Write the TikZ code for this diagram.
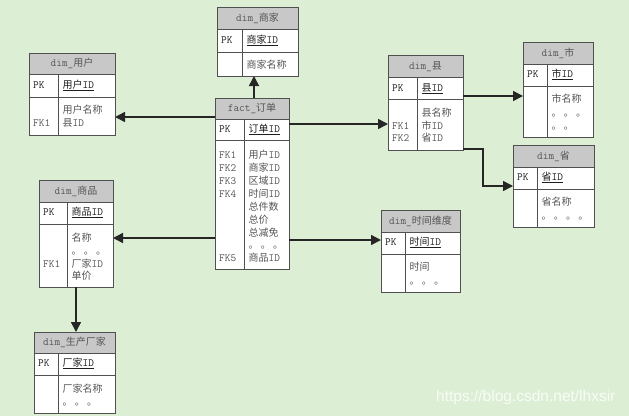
\documentclass[tikz,border=0pt]{standalone}
\usepackage{fontspec}
\newfontfamily\cjk{Noto Sans CJK SC}
\newfontfamily\wmfont{Liberation Sans}
\usetikzlibrary{arrows.meta}
\definecolor{bg}{RGB}{220,239,213}
\definecolor{hdr}{RGB}{200,200,200}
\definecolor{bd}{RGB}{80,80,80}
\definecolor{txt}{RGB}{85,85,85}
\definecolor{pktxt}{RGB}{30,30,30}
\newcommand\zh[1]{{\cjk\fontsize{10}{12}\selectfont #1}}
\tikzset{
  tblbox/.style={draw=bd, line width=1pt, inner sep=0pt, outer sep=0pt},
  ttl/.style={font=\ttfamily\fontsize{11}{13}\selectfont, text=txt, inner sep=0pt, text height=7.5pt, text depth=1.5pt},
  cell/.style={font=\ttfamily\fontsize{11}{13}\selectfont, text=txt, anchor=west, inner sep=0pt, text height=7.5pt, text depth=1.5pt},
  pkcell/.style={cell, text=pktxt},
  arr/.style={line width=1.5pt, draw=black!85, -{Triangle[length=10pt,width=10pt]}},
}
\newcommand\ertable[9]{%
  \fill[white] (#2,#3) rectangle (#4,#5);
  \fill[hdr] (#2,#3) rectangle (#4,#7);
  \draw[draw=bd, line width=1pt] (#2,#7) -- (#4,#7) (#2,#8) -- (#4,#8) (#6,#7) -- (#6,#5);
  \node[tblbox, minimum width={(#4-#2)*1pt}, minimum height={(#5-#3)*1pt}] (#1) at ({(#2+#4)/2},{(#3+#5)/2}) {};
  \node[ttl] (#1-title) at ({(#2+#4)/2},{(#3+#7)/2}) {#9};
}
\begin{document}
\begin{tikzpicture}[x=1pt,y=-1pt]
\fill[bg] (0,0) rectangle (629,416);
\useasboundingbox (0,0) rectangle (629,416);

% dim_商家
\ertable{merchant}{217}{7}{298}{76}{242}{29}{52}{dim\_\zh{商家}}
\node[pkcell] (m-pk) at (221,40) {PK};
\node[pkcell] (m-id) at (246.5,40) {\underline{\zh{商家}ID}};
\node[cell] (m-r1) at (246.5,65) {\zh{商家名称}};

% dim_用户
\ertable{user}{29}{53}{115}{135}{58}{74}{97}{dim\_\zh{用户}}
\node[pkcell] (u-pk) at (33,85) {PK};
\node[pkcell] (u-id) at (62.5,85) {\underline{\zh{用户}ID}};
\node[cell] (u-r1) at (62.5,110) {\zh{用户名称}};
\node[cell] (u-r2) at (62.5,123) {\zh{县}ID};
\node[cell] (u-fk1) at (33,123) {FK1};

% fact_订单
\ertable{fact}{215}{98}{289}{269}{244}{119}{140}{fact\_\zh{订单}}
\node[pkcell] (f-pk) at (219,129) {PK};
\node[pkcell] (f-id) at (248.5,129) {\underline{\zh{订单}ID}};
\node[cell] (f-fk1) at (219,155) {FK1};
\node[cell] (f-fk2) at (219,168) {FK2};
\node[cell] (f-fk3) at (219,181) {FK3};
\node[cell] (f-fk4) at (219,194) {FK4};
\node[cell] (f-fk5) at (219,258) {FK5};
\node[cell] (f-r1) at (248.5,155) {\zh{用户}ID};
\node[cell] (f-r2) at (248.5,168) {\zh{商家}ID};
\node[cell] (f-r3) at (248.5,181) {\zh{区域}ID};
\node[cell] (f-r4) at (248.5,194) {\zh{时间}ID};
\node[cell] (f-r5) at (248.5,207) {\zh{总件数}};
\node[cell] (f-r6) at (248.5,220) {\zh{总价}};
\node[cell] (f-r7) at (248.5,233) {\zh{总减免}};
\node[cell] (f-r8) at (248.5,245.3) {\zh{。 。 。}};
\node[cell] (f-r9) at (248.5,258) {\zh{商品}ID};

% dim_商品
\ertable{product}{39}{180}{113}{287}{67}{202}{224}{dim\_\zh{商品}}
\node[pkcell] (p-pk) at (43,212) {PK};
\node[pkcell] (p-id) at (71.5,212) {\underline{\zh{商品}ID}};
\node[cell] (p-r1) at (71.5,238) {\zh{名称}};
\node[cell] (p-r2) at (71.5,251.3) {\zh{。 。 。}};
\node[cell] (p-fk1) at (43,264) {FK1};
\node[cell] (p-r3) at (71.5,264) {\zh{厂家}ID};
\node[cell] (p-r4) at (71.5,276) {\zh{单价}};

% dim_生产厂家
\ertable{maker}{34}{332}{115}{413}{58}{353}{375}{dim\_\zh{生产厂家}}
\node[pkcell] (k-pk) at (38,363) {PK};
\node[pkcell] (k-id) at (62.5,363) {\underline{\zh{厂家}ID}};
\node[cell] (k-r1) at (62.5,389) {\zh{厂家名称}};
\node[cell] (k-r2) at (62.5,402.3) {\zh{。 。 。}};

% dim_县
\ertable{county}{388}{55}{463}{150}{417}{77}{99}{dim\_\zh{县}}
\node[pkcell] (c-pk) at (392,88) {PK};
\node[pkcell] (c-id) at (421.5,88) {\underline{\zh{县}ID}};
\node[cell] (c-r1) at (421.5,113) {\zh{县名称}};
\node[cell] (c-fk1) at (392,126) {FK1};
\node[cell] (c-r2) at (421.5,126) {\zh{市}ID};
\node[cell] (c-fk2) at (392,138) {FK2};
\node[cell] (c-r3) at (421.5,138) {\zh{省}ID};

% dim_市
\ertable{city}{523}{42}{593}{137}{547}{64}{86}{dim\_\zh{市}}
\node[pkcell] (s-pk) at (527,74) {PK};
\node[pkcell] (s-id) at (551.5,74) {\underline{\zh{市}ID}};
\node[cell] (s-r1) at (551.5,99) {\zh{市名称}};
\node[cell] (s-r2) at (551.5,113.3) {\zh{。 。 。}};
\node[cell] (s-r3) at (551.5,126.3) {\zh{。 。}};

% dim_省
\ertable{prov}{513}{145}{594}{227}{537}{167}{189}{dim\_\zh{省}}
\node[pkcell] (v-pk) at (517,177) {PK};
\node[pkcell] (v-id) at (541.5,177) {\underline{\zh{省}ID}};
\node[cell] (v-r1) at (541.5,202) {\zh{省名称}};
\node[cell] (v-r2) at (541.5,216.3) {\zh{。 。 。 。}};

% dim_时间维度
\ertable{time}{381}{210}{460}{292}{405}{232}{254}{dim\_\zh{时间维度}}
\node[pkcell] (t-pk) at (385,242) {PK};
\node[pkcell] (t-id) at (409.5,242) {\underline{\zh{时间}ID}};
\node[cell] (t-r1) at (409.5,267) {\zh{时间}};
\node[cell] (t-r2) at (409.5,281.3) {\zh{。 。 。}};

% connectors
\coordinate (xm) at (254,0);
\coordinate (xk) at (76,0);
\coordinate (yu) at (0,117);
\coordinate (yp) at (0,238);
\coordinate (yc) at (0,124);
\coordinate (yt) at (0,240);
\coordinate (ys) at (0,96);
\coordinate (b1) at (483,149);
\coordinate (b2) at (483,186);
\draw[arr] (xm |- fact.north) -- (xm |- merchant.south);
\draw[arr] (fact.west |- yu) -- (user.east |- yu);
\draw[arr] (fact.west |- yp) -- (product.east |- yp);
\draw[arr] (xk |- product.south) -- (xk |- maker.north);
\draw[arr] (fact.east |- yc) -- (county.west |- yc);
\draw[arr] (fact.east |- yt) -- (time.west |- yt);
\draw[arr] (county.east |- ys) -- (city.west |- ys);
\draw[arr] (county.east |- b1) -- (b1) -- (b2) -- (prov.west |- b2);

% watermark
\node[font=\wmfont\fontsize{15.5}{17}\selectfont, text=white, text opacity=0.8, anchor=west, inner sep=0pt] (wm) at (436,397) {https://blog.csdn.net/lhxsir};
\end{tikzpicture}
\end{document}
